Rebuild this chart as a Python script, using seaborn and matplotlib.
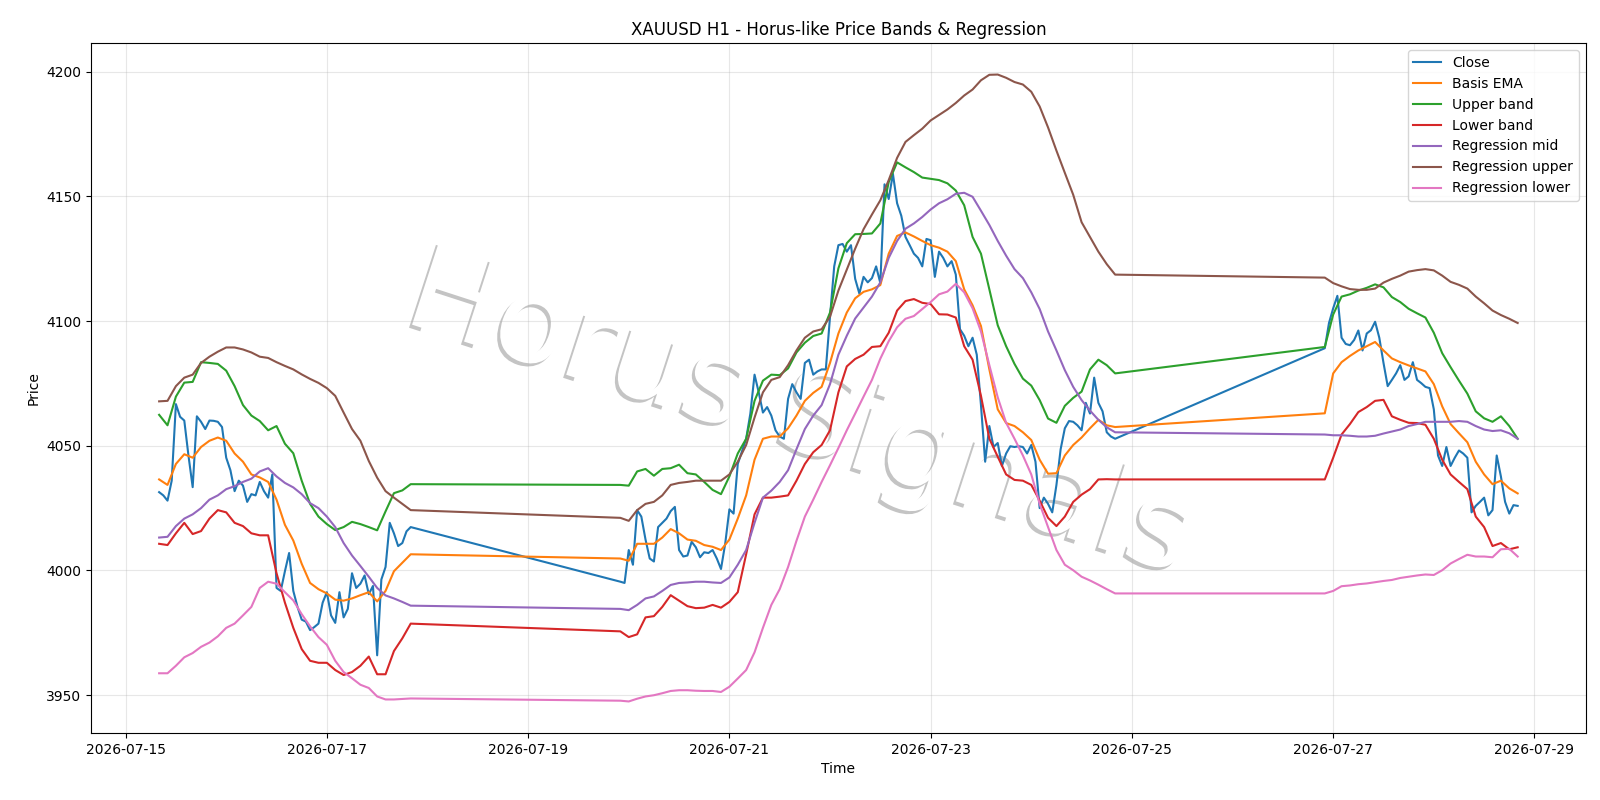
import pandas as pd
import numpy as np
import matplotlib
matplotlib.use('Agg')
import matplotlib.pyplot as plt
import matplotlib.patheffects as pe
import seaborn as sns

# trading sessions (H1 bars), weekends are skipped
sessions = [('2026-07-15 08:00', '2026-07-17 20:00'),
            ('2026-07-19 22:00', '2026-07-24 20:00'),
            ('2026-07-26 22:00', '2026-07-28 20:00')]

close = [4031.4, 4030.1, 4028.0, 4036.0, 4066.7, 4061.6, 4060.1, 4046.0, 4033.4, 4061.8,
         4059.6, 4056.7, 4060.1, 4060.0, 4059.6, 4057.5, 4045.2, 4040.2, 4031.8, 4036.0,
         4034.0, 4027.5, 4030.6, 4030.1, 4035.5, 4031.8, 4029.2, 4038.5, 3993.0, 3991.8,
         3999.7, 4007.0, 3991.8, 3985.4, 3980.3, 3979.5, 3976.1, 3977.3, 3978.7, 3987.1,
         3991.3, 3982.0, 3979.0, 3991.3, 3981.2, 3984.6, 3998.9, 3993.0, 3994.7, 3998.0,
         3990.5, 3993.8, 3966.0, 3996.4, 4001.4, 4019.1, 4014.9, 4009.8, 4011.0, 4015.7,
         4017.4,
         3995.5, 3995.0, 4008.2, 4002.3, 4024.2, 4021.6, 4012.4, 4004.8, 4003.6, 4017.4,
         4019.1, 4020.8, 4023.8, 4025.5, 4008.2, 4005.6, 4006.0, 4011.5, 4009.3, 4005.3,
         4007.3, 4007.0, 4008.2, 4004.8, 4000.6, 4010.7, 4024.5, 4022.8, 4042.7, 4047.8,
         4052.8, 4062.9, 4078.5, 4071.4, 4063.3, 4065.5, 4062.1, 4056.2, 4053.7, 4052.8,
         4068.8, 4074.7, 4071.4, 4068.8, 4083.2, 4084.5, 4078.5, 4079.8, 4080.6, 4080.6,
         4101.7, 4121.9, 4130.4, 4130.9, 4127.8, 4130.4, 4116.9, 4111.0, 4117.7, 4115.5,
         4117.2, 4121.9, 4115.2, 4154.8, 4148.9, 4159.0, 4147.2, 4142.2, 4133.7, 4130.4,
         4127.0, 4125.3, 4121.9, 4132.9, 4132.4, 4117.7, 4127.8, 4125.3, 4121.9, 4124.0,
         4118.6, 4096.7, 4094.1, 4089.9, 4093.3, 4086.5, 4066.3, 4043.6, 4057.9, 4049.5,
         4051.1, 4041.9, 4046.9, 4049.8, 4049.5, 4049.8, 4049.5, 4046.9, 4050.3, 4043.6,
         4025.0, 4029.2, 4026.7, 4023.3, 4034.3, 4048.6, 4057.0, 4059.9, 4059.6, 4058.2,
         4056.2, 4067.2, 4062.9, 4077.3, 4067.2, 4063.8, 4055.4, 4053.7, 4052.8,
         4089.1, 4099.2, 4105.1, 4110.1, 4093.3, 4090.8, 4090.3, 4092.4, 4096.2, 4088.2,
         4095.0, 4096.3, 4099.7, 4093.3, 4083.2, 4073.9, 4076.4, 4079.0, 4082.3, 4076.4,
         4077.8, 4083.5, 4076.4, 4075.1, 4073.6, 4073.1, 4064.6, 4046.1, 4041.9, 4049.5,
         4041.9, 4045.2, 4048.1, 4046.9, 4045.2, 4023.3, 4025.9, 4027.5, 4029.2, 4022.1,
         4024.2, 4046.1, 4037.7, 4027.5, 4022.8, 4026.2, 4025.9]

# band / regression lines, read every 2 hours
basis = [4036.5, 4034.3, 4042.7, 4046.6, 4045.2, 4049.5, 4052.0, 4053.3, 4052.0, 4046.9,
         4043.6, 4038.5, 4037.3, 4035.5, 4028.4, 4018.3, 4012.0, 4002.7, 3995.0, 3992.5,
         3990.8, 3988.3, 3987.9, 3988.8, 3990.1, 3991.3, 3987.6, 3991.8, 3999.7, 4003.1,
         4006.5,
         4004.8, 4003.9, 4010.7, 4010.7, 4010.7, 4013.2, 4016.6, 4014.9, 4012.4, 4011.9,
         4010.2, 4009.5, 4008.2, 4012.4, 4020.8, 4030.1, 4044.4, 4052.8, 4053.7, 4053.7,
         4057.0, 4062.1, 4068.0, 4071.2, 4073.6, 4083.2, 4095.0, 4103.4, 4109.1, 4111.7,
         4112.7, 4114.4, 4127.0, 4134.1, 4135.5, 4133.9, 4132.1, 4130.4, 4129.4, 4127.8,
         4124.0, 4112.7, 4106.3, 4098.0, 4080.6, 4064.6, 4059.1, 4057.9, 4055.4, 4052.3,
         4044.4, 4038.8, 4039.0, 4046.1, 4050.3, 4053.3, 4057.0, 4060.4, 4058.2, 4057.5,
         4063.0, 4079.0, 4083.5, 4086.0, 4088.2, 4089.9, 4091.6, 4088.2, 4085.0, 4083.5,
         4082.2, 4081.0, 4079.8, 4074.7, 4065.8, 4058.7, 4055.0, 4051.4, 4043.6, 4038.5,
         4034.6, 4036.0, 4032.9, 4030.9]

upper = [4062.4, 4058.2, 4069.7, 4075.3, 4075.6, 4083.5, 4083.2, 4082.8, 4080.1, 4073.9,
         4066.3, 4062.1, 4059.9, 4056.2, 4057.9, 4050.8, 4047.0, 4036.0, 4026.7, 4021.6,
         4018.6, 4016.2, 4017.4, 4019.5, 4018.6, 4017.4, 4016.1, 4023.7, 4031.0, 4032.1,
         4034.6,
         4034.3, 4034.0, 4039.7, 4040.7, 4038.0, 4040.7, 4041.0, 4042.4, 4039.0, 4038.5,
         4035.5, 4032.3, 4030.6, 4037.7, 4046.9, 4052.8, 4068.0, 4076.1, 4078.5, 4078.3,
         4081.0, 4087.4, 4091.3, 4094.0, 4095.0, 4103.4, 4121.1, 4131.2, 4134.8, 4134.9,
         4135.1, 4139.1, 4155.7, 4163.6, 4161.6, 4159.7, 4157.5, 4157.0, 4156.5, 4155.2,
         4152.3, 4146.4, 4133.7, 4127.0, 4112.7, 4098.3, 4089.9, 4082.8, 4076.9, 4074.1,
         4068.3, 4060.9, 4059.2, 4066.0, 4069.2, 4071.7, 4080.6, 4084.5, 4082.3, 4079.0,
         4089.6, 4102.6, 4109.8, 4110.7, 4112.2, 4113.3, 4114.7, 4113.5, 4109.6, 4107.6,
         4104.9, 4103.1, 4101.4, 4095.3, 4087.1, 4081.5, 4076.1, 4070.9, 4063.8, 4061.0,
         4059.6, 4061.8, 4057.9, 4052.8]

lower = [4010.7, 4010.2, 4014.9, 4019.1, 4014.6, 4015.8, 4020.8, 4024.2, 4023.3, 4019.1,
         4017.8, 4014.9, 4014.1, 4014.1, 3998.9, 3987.1, 3977.0, 3968.5, 3963.8, 3963.0,
         3963.0, 3960.1, 3958.1, 3959.3, 3961.8, 3965.5, 3958.4, 3958.4, 3967.7, 3972.8,
         3978.7,
         3975.6, 3973.3, 3974.4, 3981.2, 3981.7, 3985.4, 3990.1, 3987.9, 3985.7, 3984.9,
         3985.1, 3986.2, 3985.1, 3987.4, 3991.3, 4006.5, 4022.5, 4029.2, 4029.2, 4029.6,
         4030.1, 4036.0, 4042.7, 4047.4, 4050.3, 4056.2, 4071.4, 4081.8, 4084.8, 4086.5,
         4089.6, 4089.9, 4095.3, 4104.2, 4108.0, 4108.8, 4107.3, 4106.8, 4102.7, 4102.6,
         4101.4, 4089.9, 4084.5, 4070.0, 4052.8, 4045.6, 4038.5, 4036.3, 4036.0, 4034.3,
         4028.0, 4021.1, 4017.8, 4021.6, 4027.5, 4030.4, 4032.6, 4036.5, 4036.6, 4036.5,
         4036.5, 4045.2, 4054.5, 4058.7, 4063.5, 4065.5, 4068.0, 4068.4, 4061.8, 4060.4,
         4059.2, 4059.1, 4058.4, 4052.8, 4044.4, 4038.5, 4035.5, 4032.6, 4021.6, 4017.4,
         4009.8, 4011.0, 4008.5, 4009.3]

reg_mid = [4013.2, 4013.5, 4017.8, 4020.8, 4022.5, 4025.0, 4028.4, 4030.1, 4032.6, 4033.8,
           4035.5, 4036.8, 4039.7, 4041.0, 4037.7, 4035.1, 4033.3, 4030.6, 4027.0, 4025.0,
           4021.6, 4017.4, 4011.0, 4006.0, 4001.8, 3997.5, 3993.0, 3990.0, 3988.8, 3987.4,
           3985.9,
           3984.6, 3984.1, 3986.2, 3988.8, 3989.6, 3991.8, 3994.2, 3995.0, 3995.2, 3995.5,
           3995.5, 3995.2, 3995.0, 3997.2, 4002.3, 4008.2, 4019.1, 4029.2, 4032.0, 4035.5,
           4040.2, 4048.6, 4056.7, 4062.1, 4066.3, 4074.7, 4086.5, 4094.1, 4101.0, 4105.4,
           4109.8, 4115.5, 4125.3, 4132.1, 4137.0, 4139.1, 4141.7, 4144.7, 4147.2, 4148.8,
           4151.0, 4151.4, 4149.8, 4144.2, 4138.5, 4132.1, 4126.2, 4120.8, 4117.2, 4111.5,
           4104.8, 4095.8, 4088.2, 4080.3, 4073.6, 4068.3, 4064.1, 4060.4, 4057.4, 4055.4,
           4054.5, 4054.2, 4054.2, 4054.0, 4053.7, 4053.7, 4054.0, 4054.9, 4055.7, 4056.5,
           4057.9, 4058.7, 4059.6, 4059.6, 4059.6, 4059.6, 4059.9, 4059.6, 4057.9, 4056.5,
           4055.9, 4056.2, 4055.0, 4052.8]

reg_upper = [4067.8, 4068.0, 4073.9, 4077.3, 4078.5, 4083.2, 4085.7, 4087.7, 4089.4, 4089.4,
             4088.6, 4087.4, 4085.7, 4085.2, 4083.5, 4082.0, 4080.6, 4078.6, 4076.8, 4075.2,
             4073.1, 4070.0, 4063.3, 4056.7, 4052.0, 4043.9, 4037.2, 4031.8, 4029.2, 4026.7,
             4024.2,
             4021.1, 4019.9, 4024.2, 4026.7, 4027.5, 4030.1, 4034.3, 4035.1, 4035.5, 4036.0,
             4036.0, 4036.0, 4036.0, 4038.5, 4043.6, 4050.3, 4061.3, 4071.4, 4076.4, 4077.5,
             4082.3, 4088.2, 4093.3, 4095.8, 4096.7, 4101.7, 4112.2, 4120.6, 4129.0, 4136.8,
             4142.7, 4148.4, 4156.5, 4165.4, 4171.8, 4174.5, 4177.1, 4180.4, 4182.6, 4184.8,
             4187.4, 4190.4, 4192.8, 4196.5, 4198.7, 4198.8, 4197.5, 4195.8, 4194.8, 4191.9,
             4186.0, 4177.6, 4168.3, 4159.4, 4150.6, 4139.6, 4133.7, 4127.8, 4122.8, 4118.6,
             4117.4, 4115.2, 4113.9, 4112.8, 4112.5, 4112.5, 4113.0, 4115.4, 4116.9, 4118.2,
             4119.8, 4120.4, 4120.8, 4120.3, 4118.2, 4115.7, 4114.5, 4113.0, 4109.8, 4107.1,
             4104.2, 4102.4, 4100.9, 4099.2]

reg_lower = [3958.8, 3958.8, 3961.8, 3965.2, 3966.9, 3969.4, 3971.1, 3973.6, 3977.0, 3978.7,
             3982.0, 3985.4, 3993.0, 3995.5, 3994.7, 3991.3, 3988.0, 3982.5, 3977.6, 3973.3,
             3970.2, 3963.8, 3959.3, 3956.8, 3954.2, 3952.9, 3949.5, 3948.3, 3948.3, 3948.5,
             3948.7,
             3947.8, 3947.5, 3948.6, 3949.5, 3950.0, 3950.8, 3951.7, 3952.0, 3952.0, 3951.8,
             3951.7, 3951.7, 3951.3, 3953.4, 3956.7, 3960.1, 3967.2, 3977.0, 3986.2, 3992.5,
             4001.4, 4011.9, 4021.6, 4028.4, 4035.5, 4042.2, 4049.1, 4056.2, 4062.9, 4069.7,
             4076.4, 4084.9, 4091.9, 4097.5, 4100.9, 4102.0, 4104.8, 4107.6, 4110.7, 4111.8,
             4114.9, 4111.5, 4105.1, 4095.8, 4082.3, 4069.4, 4059.2, 4052.8, 4046.1, 4038.5,
             4026.7, 4017.4, 4008.2, 4002.3, 4000.1, 3997.5, 3996.0, 3994.3, 3992.5, 3990.8,
             3990.8, 3991.8, 3993.7, 3994.0, 3994.5, 3994.8, 3995.3, 3995.8, 3996.2, 3997.0,
             3997.5, 3998.0, 3998.4, 3998.2, 4000.1, 4002.8, 4004.6, 4006.3, 4005.6, 4005.6,
             4005.3, 4008.5, 4008.7, 4005.6]

t_h1 = pd.date_range(*sessions[0], freq='h')
t_2h = pd.date_range(*sessions[0], freq='2h')
for start, end in sessions[1:]:
    t_h1 = t_h1.append(pd.date_range(start, end, freq='h'))
    t_2h = t_2h.append(pd.date_range(start, end, freq='2h'))

price_df = pd.DataFrame({'Time': t_h1, 'Price': close})
bands_df = pd.DataFrame({'Time': t_2h,
                         'Basis EMA': basis,
                         'Upper band': upper,
                         'Lower band': lower,
                         'Regression mid': reg_mid,
                         'Regression upper': reg_upper,
                         'Regression lower': reg_lower})

colors = sns.color_palette('tab10')

fig, ax = plt.subplots(figsize=(16, 8), dpi=100)

sns.lineplot(data=price_df, x='Time', y='Price', color=colors[0], label='Close',
             errorbar=None, linewidth=1.5, ax=ax)
for i, name in enumerate(['Basis EMA', 'Upper band', 'Lower band',
                          'Regression mid', 'Regression upper', 'Regression lower']):
    sns.lineplot(data=bands_df, x='Time', y=name, color=colors[i + 1], label=name,
                 errorbar=None, linewidth=1.5, ax=ax)

# watermark
ax.text(0.5, 0.48, 'Horus Signals', transform=fig.transFigure, fontsize=86,
        color='white', rotation=-18, ha='center', va='center', zorder=1,
        path_effects=[pe.withSimplePatchShadow(offset=(-2.2, -2.2),
                                               shadow_rgbFace='#c4c4c4', alpha=1.0)])

ax.set_title('XAUUSD H1 - Horus-like Price Bands & Regression')
ax.set_xlabel('Time')
ax.set_ylabel('Price')
ax.grid(True, alpha=0.3)
ax.legend(loc='upper right')

fig.subplots_adjust(left=0.057, right=0.991, top=0.946, bottom=0.084)
fig.savefig('out.png', dpi=100)
